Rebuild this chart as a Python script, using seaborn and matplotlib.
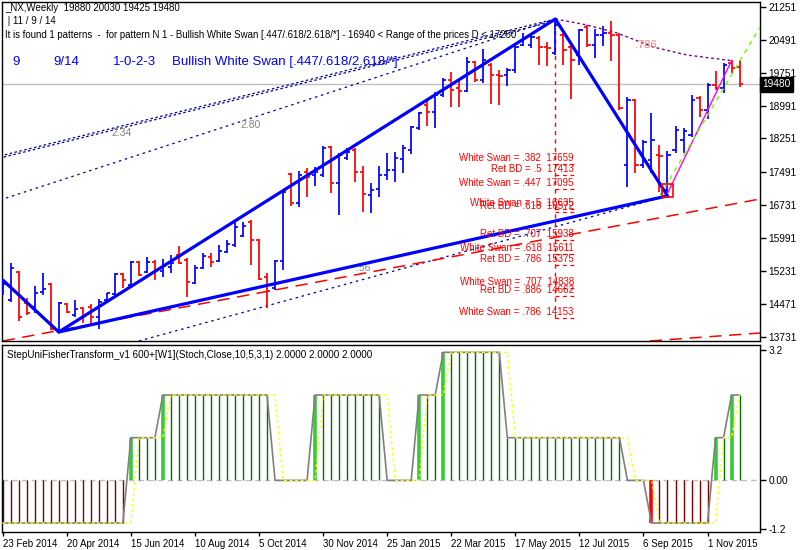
import matplotlib
matplotlib.use("Agg")
import matplotlib.pyplot as plt
import numpy as np
import pandas as pd
import seaborn as sns

# ---------------- data ----------------
opens = [14726, 14567, 15205, 14499, 14408, 14749, 14931, 13884, 14476, 14226,
         14385, 14408, 14180, 14567, 14704, 15170, 14909, 15440, 15205, 15440,
         15228, 15319, 15593, 15479, 14954, 15296, 15547, 15456, 15660, 15820,
         16030, 16345, 15934, 15091, 14840, 15456, 17439, 16778, 17484, 17416,
         17416, 18054, 17233, 17803, 17986, 17484, 16960, 17097, 17416, 17530,
         17780, 17986, 18487, 19011, 18852, 19239, 19581, 19398, 19340, 19991,
         19581, 19923, 19695, 19695, 19809, 20378, 20378, 20538, 20333, 20196,
         20606, 20333, 20151, 20789, 20378, 20606, 20652, 20606, 17644, 19125,
         17644, 17758, 17872, 17074, 17986, 18213, 18327, 19171, 18897, 19467,
         19398, 19968, 19880]
highs = [15023, 15410, 15228, 14613, 14886, 15182, 14954, 14521, 14499, 14567,
         14408, 14476, 14590, 14726, 15182, 15182, 15456, 15456, 15547, 15470,
         15501, 15593, 15798, 15524, 15365, 15638, 15638, 15820, 15934, 16390,
         16345, 16390, 15957, 15182, 15479, 17074, 17461, 17507, 17575, 17598,
         18077, 18070, 17917, 18031, 18031, 17621, 17233, 17621, 17917, 17940,
         18100, 18533, 18852, 19148, 19307, 19626, 19763, 19604, 20105, 20014,
         20287, 19968, 19809, 19854, 20356, 20652, 20629, 20584, 20447, 20971,
         20652, 20378, 20743, 20834, 20743, 20811, 20925, 20652, 19193, 19148,
         18213, 18829, 18100, 17963, 18533, 18487, 19239, 19216, 19512, 19786,
         19968, 20037, 20030]
lows = [14681, 14521, 14089, 14226, 14271, 14681, 13884, 13838, 14271, 14180,
        14043, 13997, 13906, 14521, 14681, 14840, 14886, 15114, 15182, 15023,
        15091, 15182, 15387, 14635, 14930, 15280, 15319, 15433, 15638, 15775,
        16003, 15365, 15023, 14385, 14795, 15251, 16709, 16686, 16914, 17165,
        17370, 17006, 16504, 17758, 17256, 16572, 16550, 16914, 17302, 17256,
        17461, 17894, 18441, 18533, 18487, 19193, 18965, 18965, 19307, 19535,
        19512, 19034, 19011, 19444, 19740, 20356, 20310, 19923, 19900, 20151,
        19923, 19148, 19923, 20333, 20082, 20356, 20014, 18897, 17142, 17461,
        17575, 17461, 17028, 16940, 17917, 17917, 18282, 18738, 18692, 19353,
        19285, 19740, 19425]
closes = [14931, 15296, 14180, 14271, 14726, 14818, 13906, 14499, 14294, 14362,
          14203, 14180, 14521, 14720, 15170, 15023, 15433, 15137, 15433, 15251,
          15342, 15410, 15410, 14977, 15296, 15570, 15433, 15684, 15843, 16231,
          16254, 15934, 15046, 14772, 15456, 17028, 16778, 17416, 17370, 17484,
          18031, 17233, 17872, 17940, 17484, 16983, 17074, 17416, 17530, 17803,
          18031, 18510, 18829, 18852, 19239, 19581, 19353, 19340, 19991, 19581,
          20037, 19695, 19672, 19809, 20340, 20538, 20561, 20333, 20310, 20834,
          20264, 20037, 20720, 20378, 20606, 20652, 20606, 18943, 19125, 17644,
          18168, 18213, 17860, 17872, 18441, 18419, 19125, 18897, 19467, 19398,
          19923, 19854, 19480]

fisher = [
    -1.05, -1.05, -1.05, -1.05, -1.05, -1.05, -1.05, -1.05, -1.05, -1.05,
    -1.05, -1.05, -1.05, -1.05, -1.05, -1.05, 1.05, 1.05, 1.05, 1.05,
    2.1, 2.1, 2.1, 2.1, 2.1, 2.1, 2.1, 2.1, 2.1, 2.1,
    2.1, 2.1, 2.1, 2.1, 0, 0, 0, 0, 0, 2.1,
    2.1, 2.1, 2.1, 2.1, 2.1, 2.1, 2.1, 2.1, 0, 0,
    0, 0, 2.1, 2.1, 2.1, 3.15, 3.15, 3.15, 3.15, 3.15,
    3.15, 3.15, 3.15, 1.05, 1.05, 1.05, 1.05, 1.05, 1.05, 1.05,
    1.05, 1.05, 1.05, 1.05, 1.05, 1.05, 1.05, 1.05, 0, 0,
    0, -1.05, -1.05, -1.05, -1.05, -1.05, -1.05, -1.05, -1.05, 1.05,
    1.05, 2.1, 2.1]
signal = [
    -1.05, -1.05, -1.05, -1.05, -1.05, -1.05, -1.05, -1.05, -1.05, -1.05,
    -1.05, -1.05, -1.05, -1.05, -1.05, -1.05, -1.05, 1.05, 1.05, 1.05,
    1.05, 2.1, 2.1, 2.1, 2.1, 2.1, 2.1, 2.1, 2.1, 2.1,
    2.1, 2.1, 2.1, 2.1, 2.1, 0, 0, 0, 0, 0,
    2.1, 2.1, 2.1, 2.1, 2.1, 2.1, 2.1, 2.1, 2.1, 0,
    0, 0, 0, 2.1, 2.1, 2.1, 3.15, 3.15, 3.15, 3.15,
    3.15, 3.15, 3.15, 3.15, 1.05, 1.05, 1.05, 1.05, 1.05, 1.05,
    1.05, 1.05, 1.05, 1.05, 1.05, 1.05, 1.05, 1.05, 1.05, 0,
    0, 0, -1.05, -1.05, -1.05, -1.05, -1.05, -1.05, -1.05, -1.05,
    1.05, 1.05, 2.1]
strong_up = [16, 20, 39, 52, 55, 89, 91]
strong_dn = [81]

date_labels = ["23 Feb 2014", "20 Apr 2014", "15 Jun 2014", "10 Aug 2014",
               "5 Oct 2014", "30 Nov 2014", "25 Jan 2015", "22 Mar 2015",
               "17 May 2015", "12 Jul 2015", "6 Sep 2015", "1 Nov 2015"]
date_pos = [0, 8, 16, 24, 32, 40, 48, 56, 64, 72, 80, 88]
price_ticks = [21251, 20491, 19751, 18991, 18251, 17491, 16731, 15991,
               15231, 14471, 13731]
last_price = 19480

# pattern points (bar index, price): start, X(0), B(peak), D
pat_i = [0, 7, 69, 83]
pat_p = [15023, 13838, 20971, 16940]

swan_names = ["White Swan = .382", "Ret BD = .5", "White Swan = .447",
              "White Swan = .5", "Ret BD = .618", "Ret BD = .707",
              "White Swan = .618", "Ret BD = .786", "White Swan = .707",
              "Ret BD = .886", "White Swan = .786"]
swan_levels = [17659, 17413, 17095, 16635, 16572, 15938, 15611, 15375,
               14838, 14662, 14153]

# channel / projection lines (bar index, price)
upper_ch_i = [-0.34, 69]
upper_ch_p = [17849, 20971]
lower_ch_i = [-0.34, 69]
lower_ch_p = [16846, 20971]
base_ch_i = [17.0, 83]
base_ch_p = [13633, 16940]
red_line_i = [0.0, 94.55]
red_line_p = [13633, 16869]
red_line2_i = [80.8, 94.55]
red_line2_p = [13633, 13815]
magenta_i = [83, 91]
magenta_p = [16998, 20021]
green_i = [82.1, 94.55]
green_p = [16960, 20789]
purple_i = [69, 72.95, 76.7, 81.2, 85.4, 91]
purple_p = [20971, 20834, 20652, 20333, 20151, 20021]

df = pd.DataFrame({"i": np.arange(len(opens)), "open": opens, "high": highs,
                   "low": lows, "close": closes})
ind = pd.DataFrame({"i": np.arange(len(fisher)), "fisher": fisher,
                    "signal": signal})

# ---------------- figure ----------------
sns.set_theme(style="white")
plt.rcParams["font.family"] = ["Liberation Sans", "DejaVu Sans"]
W, H = 800, 550
fig = plt.figure(figsize=(8, 5.5), dpi=100)
fig.patch.set_facecolor("white")

ax = fig.add_axes([2 / W, 1 - 341 / H, 758 / W, 339 / H])
ax2 = fig.add_axes([2 / W, 1 - 532 / H, 758 / W, 187 / H])
XL = (-0.09, 94.55)

for a in (ax, ax2):
    a.set_facecolor("white")
    for s in a.spines.values():
        s.set_color("black")
        s.set_linewidth(1)
    a.set_xlim(*XL)
    a.grid(False)

BLUE, RED = "#0000FF", "#FF0000"
cols = [BLUE if c >= o else RED for o, c in zip(df.open, df.close)]

# gray bid line
ax.axhline(last_price, color="#C0C0C0", lw=1, zorder=1)

# OHLC bars
ax.vlines(df.i, df.low, df.high, colors=cols, lw=1.25, zorder=3)
ax.hlines(df.open, df.i - 0.4, df.i, colors=cols, lw=1.25, zorder=3)
ax.hlines(df.close, df.i, df.i + 0.4, colors=cols, lw=1.25, zorder=3)

# dotted channel lines
off = 45
ax.plot(upper_ch_i, upper_ch_p, color="#0000A0", ls=(0, (2, 2)), lw=0.9, zorder=2)
ax.plot(upper_ch_i, [p - off for p in upper_ch_p], color="#0000A0",
        ls=(1, (2, 2)), lw=0.9, zorder=2)
ax.plot(lower_ch_i, lower_ch_p, color="#0000A0", ls=(0, (2, 3)), lw=0.9, zorder=2)
ax.plot(base_ch_i, base_ch_p, color="#0000A0", ls=(0, (2, 3)), lw=0.9, zorder=2)

# red dashed lines
ax.plot(red_line_i, red_line_p, color=RED, ls=(0, (8, 5)), lw=1.1, zorder=2)
ax.plot(red_line2_i, red_line2_p, color=RED, ls=(0, (8, 5)), lw=1.1, zorder=2)

# purple dotted
ax.plot(purple_i, purple_p, color="#800080", ls=(0, (2, 2)), lw=1.0, zorder=2)

# white swan levels
ax.vlines(pat_i[2], min(swan_levels), pat_p[2], colors=RED, linestyles=(0, (3, 3)),
          lw=1.0, zorder=2)
ax.hlines(swan_levels, pat_i[2], 71.3, colors=RED, linestyles=(0, (3, 3)),
          lw=0.9, zorder=2)
for name, lev in zip(swan_names, swan_levels):
    ax.text(71.3, lev + 20, f"{name}  {lev}", ha="right", va="bottom",
            color=RED, fontsize=7.0, zorder=6)

# pattern thick lines
sns.lineplot(x=pat_i, y=pat_p, ax=ax, color=BLUE, lw=2.3, sort=False,
             estimator=None, zorder=5)
sns.lineplot(x=[pat_i[1], pat_i[3]], y=[pat_p[1], pat_p[3]], ax=ax,
             color=BLUE, lw=2.3, zorder=5)

# projection lines
ax.plot(magenta_i, magenta_p, color="#FF00FF", lw=1.0, zorder=5)
ax.plot(green_i, green_p, color="#7CFC00", ls=(0, (3, 3)), lw=1.1, zorder=5)

# D box
ax.add_patch(plt.Rectangle((82.3, 16920), 1.4, 290, fill=False, ec=RED, lw=1.2,
                           zorder=6))

# small gray labels
ax.text(14.9, 18373, "2.34", color="#808080", fontsize=7.5, ha="center", va="center")
ax.text(30.9, 18555, "2.80", color="#808080", fontsize=7.5, ha="center", va="center")
ax.text(45.0, 15296, ".56", color="#808080", fontsize=7.5, ha="center", va="center")
ax.text(80.3, 20378, ".786", color="#FA8072", fontsize=8, ha="center", va="center")

ax.set_ylim(13633, 21358)
ax.yaxis.tick_right()
ax.set_yticks(price_ticks)
ax.set_yticklabels([str(t) for t in price_ticks])
ax.tick_params(axis="y", direction="out", length=4, width=1, labelsize=7.3,
               pad=2, colors="black", right=True)
ax.set_xticks([])
ax.set_xlabel("")
ax.set_ylabel("")

# last price box
ytr = ax.get_yaxis_transform()
ax.text(1.003, last_price, str(last_price), transform=ytr, color="white",
        fontsize=7.3, va="center", ha="left",
        bbox=dict(boxstyle="square,pad=0.25", fc="black", ec="black"))

# ---------------- indicator ----------------
ax2.set_ylim(-1.27, 3.33)
ax2.axhline(0, color="#C0C0C0", ls=(0, (4, 3)), lw=1, zorder=1)
for i, v in zip(ind.i, ind.fisher):
    if v == 0:
        continue
    if i in strong_up:
        ax2.vlines(i, 0, v, colors="#32CD32", lw=2.6, zorder=3)
    elif i in strong_dn:
        ax2.vlines(i, 0, v, colors="#FF0000", lw=2.6, zorder=3)
    else:
        ax2.vlines(i, 0, v, colors="#007000" if v > 0 else "#800000",
                   lw=1.0, zorder=2)
sns.lineplot(data=ind, x="i", y="fisher", ax=ax2, color="#808080", lw=1.2,
             zorder=4)
sns.lineplot(data=ind, x="i", y="signal", ax=ax2, color="#FFFF00", lw=1.0,
             ls=(0, (2, 2)), zorder=5)
ax2.set_xlabel("")
ax2.set_ylabel("")
ax2.yaxis.tick_right()
ax2.set_yticks([3.2, 0.0, -1.2])
ax2.set_yticklabels(["3.2", "0.00", "-1.2"])
ax2.tick_params(axis="y", direction="out", length=4, width=1, labelsize=7.3,
                pad=2, colors="black", right=True)
ax2.set_xticks(date_pos)
ax2.set_xticklabels(date_labels)
for lab in ax2.get_xticklabels():
    lab.set_ha("left")
ax2.tick_params(axis="x", direction="out", length=3, width=1, labelsize=7.0,
                pad=2, colors="black", bottom=True)
ax2.text(0.006, 0.975, "StepUniFisherTransform_v1 600+[W1](Stoch,Close,10,5,3,1) "
         "2.0000 2.0000 2.0000", transform=ax2.transAxes, fontsize=7.1,
         va="top", ha="left", color="black")

# ---------------- header texts ----------------
def ftxt(x, y, s, **kw):
    fig.text(x / W, 1 - y / H, s, va="center", ha="left", **kw)

ftxt(5, 8, "_NX,Weekly  19880 20030 19425 19480", fontsize=7.0, color="black")
ftxt(5, 21, " | 11 / 9 / 14", fontsize=7.0, color="black")
ftxt(5, 35, "It is found 1 patterns  -  for pattern N 1 - Bullish White Swan "
     "[.447/.618/2.618/*] - 16940 < Range of the prices D < 17250",
     fontsize=6.9, color="black", zorder=10)
ftxt(12, 62, "9", fontsize=9.5, color=BLUE)
ftxt(53, 62, "9/14", fontsize=9.5, color=BLUE)
ftxt(113, 62, "1-0-2-3", fontsize=9.5, color=BLUE)
ftxt(172, 62, "Bullish White Swan [.447/.618/2.618/*]", fontsize=9.5, color=BLUE)

fig.savefig("out.png", dpi=100, facecolor="white")
